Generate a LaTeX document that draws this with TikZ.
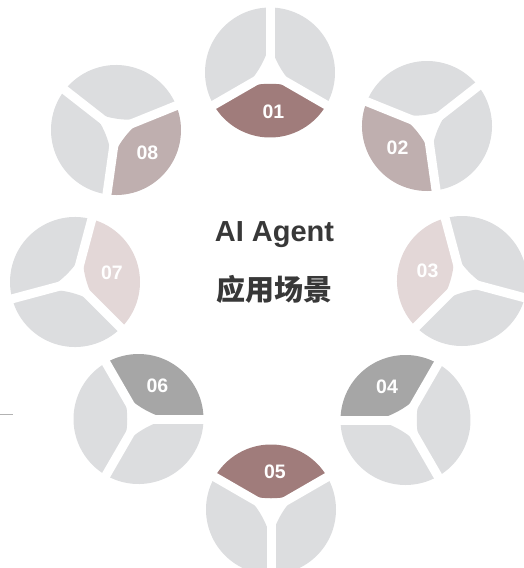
\documentclass[tikz,border=0pt]{standalone}
\usepackage{fontspec}
\setmainfont{Liberation Sans}
\newfontfamily\cjk{Noto Sans CJK SC}
\definecolor{gl}{HTML}{DCDDDF}
\definecolor{cA}{HTML}{A07C7B}
\definecolor{cB}{HTML}{BFAFAF}
\definecolor{cC}{HTML}{E3D7D7}
\definecolor{cD}{HTML}{A6A6A6}
\definecolor{txt}{HTML}{383838}
\newcommand\mysector[3]{\fill[#3] (#1:36) -- (#1:65) arc[start angle=#1, end angle=#2, radius=65] -- (#2:36) .. controls (#2:18) and (#1:18) .. (#1:36) -- cycle;}
\newcommand\mybubble[4]{%
\begin{scope}[shift={(#1,-#2)}, rotate=#3]
\mysector{-60}{60}{#4}
\mysector{60}{180}{gl}
\mysector{180}{300}{gl}
\foreach \a in {60,180,300} \draw[gapline] (0,0) -- (\a:67);
\end{scope}}
\begin{document}
\begin{tikzpicture}[x=1pt,y=1pt,
  gapline/.style={white, line width=9pt},
  num/.style={text=white, font=\fontsize{19.5}{20}\selectfont\bfseries, inner sep=0pt},
  title/.style={text=txt, font=\fontsize{29}{30}\selectfont\bfseries, inner sep=0pt}]
\useasboundingbox (0,0) rectangle (524,-568);
\mybubble{270}{72.5}{-90}{cA}
\mybubble{427}{126}{218}{cB}
\mybubble{462}{281}{165}{cC}
\mybubble{405.5}{420}{120}{cD}
\mybubble{271}{509.5}{90}{cA}
\mybubble{138.5}{419}{60}{cD}
\mybubble{75}{282}{15}{cC}
\mybubble{116}{130}{-38}{cB}
\node[num] (n01) at (273.5,-111.7) {01};
\node[num] (n02) at (397.5,-147.5) {02};
\node[num] (n03) at (427.5,-271) {03};
\node[num] (n04) at (387,-386.5) {04};
\node[num] (n05) at (275,-471.5) {05};
\node[num] (n06) at (157.5,-386) {06};
\node[num] (n07) at (112,-272.5) {07};
\node[num] (n08) at (147.5,-152.5) {08};
\node[title] (t1) at (274.5,-235) {AI Agent};
\node[title] (t2) at (274.5,-289) {\cjk\bfseries 应用场景};
\coordinate (s1) at (0,-414);
\coordinate (s2) at (13,-414);
\draw[line width=1pt, gray!60] (s1) -- (s2);
\end{tikzpicture}
\end{document}
